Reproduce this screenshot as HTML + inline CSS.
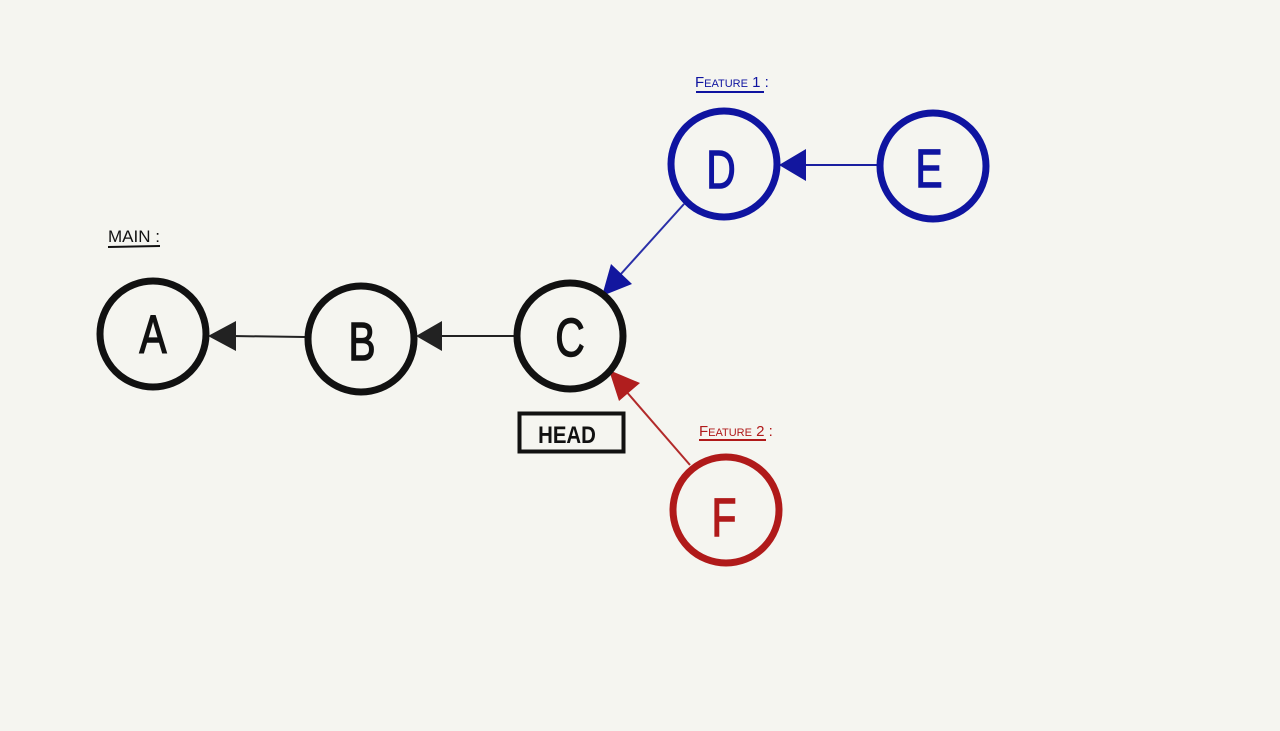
<!DOCTYPE html>
<html><head><meta charset="utf-8"><style>
html,body{margin:0;padding:0;background:#f5f5f0;}
svg{display:block}
text{font-family:"Liberation Sans",sans-serif;}
</style></head><body>
<svg width="1280" height="731" viewBox="0 0 1280 731">
<rect width="1280" height="731" fill="#f5f5f0"/>
<line x1="305" y1="337" x2="232" y2="336" stroke="#222" stroke-width="2"/>
<polygon points="208,336 236,321 236,351" fill="#222"/>
<line x1="515" y1="336" x2="440" y2="336" stroke="#222" stroke-width="2"/>
<polygon points="416,336 442,321 442,351" fill="#222"/>
<line x1="878" y1="165" x2="804" y2="165" stroke="#1a1fa0" stroke-width="2"/>
<polygon points="779,165 806,149 806,181" fill="#12169e"/>
<line x1="684" y1="204" x2="620" y2="275" stroke="#2a2fa8" stroke-width="2"/>
<polygon points="602,296 611,264 632,284" fill="#12169e"/>
<line x1="690" y1="465" x2="625" y2="390" stroke="#b22a2a" stroke-width="2"/>
<polygon points="609,370 640,383 619,401" fill="#b01e1e"/>
<g fill="none" stroke-width="7">
<circle cx="153" cy="334" r="53" stroke="#111"/>
<circle cx="361" cy="339" r="53" stroke="#111"/>
<circle cx="570" cy="336" r="53" stroke="#111"/>
<circle cx="724" cy="164" r="53" stroke="#0f14a0"/>
<circle cx="933" cy="166" r="53" stroke="#0f14a0"/>
<circle cx="726" cy="510" r="53" stroke="#b01a1a"/>
</g>
<g font-size="54" text-anchor="middle" stroke-width="1.5">
<text transform="translate(153,353) scale(0.75,1)" fill="#111" stroke="#111">A</text>
<text transform="translate(362,360) scale(0.75,1)" fill="#111" stroke="#111">B</text>
<text transform="translate(570,356) scale(0.75,1)" fill="#111" stroke="#111">C</text>
<text transform="translate(721,188) scale(0.75,1)" fill="#0f14a0" stroke="#0f14a0">D</text>
<text transform="translate(929,187) scale(0.75,1)" fill="#0f14a0" stroke="#0f14a0">E</text>
<text transform="translate(724,536) scale(0.75,1)" fill="#b01a1a" stroke="#b01a1a">F</text>
</g>
<rect x="519.5" y="413.5" width="104" height="38" fill="none" stroke="#111" stroke-width="4"/>
<text transform="translate(567,443) scale(0.85,1)" font-size="24" font-weight="bold" text-anchor="middle" fill="#111">HEAD</text>
<text x="108" y="242" font-size="17" font-variant="small-caps" fill="#111">MAIN :</text>
<line x1="108" y1="247" x2="160" y2="246" stroke="#111" stroke-width="2"/>
<text x="695" y="87" font-size="15" font-variant="small-caps" fill="#0f14a0">Feature 1 :</text>
<line x1="696" y1="92" x2="764" y2="92" stroke="#0f14a0" stroke-width="2"/>
<text x="699" y="436" font-size="15" font-variant="small-caps" fill="#b01a1a">Feature 2 :</text>
<line x1="699" y1="440" x2="766" y2="440" stroke="#b01a1a" stroke-width="2"/>
</svg>
</body></html>
